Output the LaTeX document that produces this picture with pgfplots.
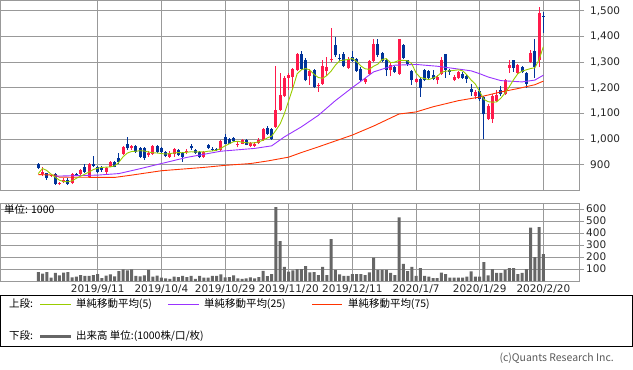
\documentclass[border=0pt]{standalone}
\usepackage{pgfplots}
\pgfplotsset{compat=1.18}
\usepackage{pgfplotstable}
\usepackage{fontspec}
\setmainfont{DejaVu Sans}
\newfontfamily\jp{Noto Sans CJK JP}
\newcommand\tf{\fontsize{10.5pt}{12.5pt}\selectfont}
\definecolor{cRed}{HTML}{FF1A4B}
\definecolor{cBlue}{HTML}{003399}
\definecolor{ma5}{HTML}{99CC00}
\definecolor{ma25}{HTML}{9933FF}
\definecolor{ma75}{HTML}{FF3300}
\definecolor{gridc}{HTML}{999999}
\definecolor{volc}{HTML}{666666}

\pgfplotstableread{
i O H L C
-13 866 890 858 872
-11 858 866 854 862
-9 824 833 820 830
-8 834 848 830 842
-6 828 869 825 866
-4 865 884 862 881
-2 852 908 850 905
2 873 893 866 889
3 893 914 890 910
6 944 975 940 970
8 964 978 958 974
12 938 952 932 947
13 942 976 938 973
17 931 952 928 947
18 944 966 931 960
21 950 962 942 955
25 931 955 928 951
29 957 997 955 994
33 980 992 968 983
34 983 1000 980 996
36 973 990 970 986
37 973 987 970 983
38 985 1005 982 996
39 996 1045 994 1041
42 1048 1285 1045 1113
43 1113 1259 1110 1171
44 1168 1245 1164 1240
45 1240 1259 1190 1249
46 1242 1278 1190 1272
47 1268 1335 1265 1330
50 1245 1275 1210 1264
52 1206 1220 1184 1212
53 1216 1307 1212 1284
54 1266 1320 1245 1281
55 1307 1433 1300 1314
59 1277 1320 1274 1314
63 1221 1240 1216 1236
64 1253 1310 1250 1304
65 1304 1389 1300 1372
69 1268 1295 1245 1290
71 1255 1392 1250 1389
75 1223 1240 1220 1236
80 1229 1250 1215 1242
81 1253 1320 1250 1307
84 1229 1248 1225 1242
85 1240 1266 1236 1262
89 1167 1193 1155 1184
92 1078 1135 1074 1128
93 1078 1175 1063 1168
94 1149 1190 1145 1173
96 1177 1235 1172 1229
97 1277 1310 1258 1288
99 1258 1294 1255 1290
102 1300 1349 1296 1336
104 1310 1516 1281 1492
}\upc

\pgfplotstableread{
i O H L C
-14 905 908 884 889
-12 867 870 842 848
-10 866 870 822 826
-7 842 848 822 826
-5 866 870 855 858
-3 893 902 870 874
-1 905 935 892 895
0 890 895 870 874
1 886 895 873 878
4 910 916 890 893
5 925 945 905 912
7 983 1009 958 964
9 973 977 948 951
10 966 970 928 931
11 964 968 918 925
14 973 976 948 951
15 966 970 946 951
16 951 955 930 934
19 957 960 935 938
20 947 950 912 929
22 974 980 958 964
23 957 960 944 947
24 951 955 928 931
26 977 980 962 966
27 962 968 955 959
28 962 965 955 959
30 1009 1019 980 983
31 999 1003 980 983
32 1005 1008 988 991
35 996 1000 976 979
40 1045 1050 1018 1022
41 1041 1045 998 1002
48 1333 1343 1270 1275
49 1310 1318 1225 1229
51 1268 1272 1200 1203
56 1365 1398 1320 1326
57 1318 1330 1305 1315
58 1330 1340 1280 1284
60 1320 1345 1300 1305
61 1314 1318 1262 1266
62 1275 1280 1228 1232
66 1372 1392 1320 1326
67 1336 1340 1300 1305
68 1307 1312 1245 1268
70 1281 1285 1258 1262
72 1368 1372 1312 1317
73 1307 1310 1285 1291
74 1266 1270 1212 1229
76 1236 1240 1165 1201
77 1268 1272 1225 1229
78 1266 1270 1236 1240
79 1250 1268 1230 1236
82 1330 1333 1240 1268
83 1268 1275 1250 1262
86 1255 1260 1236 1240
87 1245 1249 1220 1236
88 1197 1216 1168 1184
90 1188 1203 1150 1155
91 1165 1168 999 1097
95 1193 1206 1170 1175
98 1307 1310 1262 1277
100 1281 1285 1258 1262
101 1258 1262 1200 1216
103 1343 1391 1240 1281
105 1480 1494 1413 1477
}\dnc

\pgfplotstableread{
i v
-14 75
-13 61
-12 75
-11 28
-10 67
-9 47
-8 70
-7 75
-6 31
-5 36
-4 50
-3 42
-2 42
-1 50
0 58
1 25
2 45
3 55
4 39
5 83
6 97
7 89
8 97
9 42
10 39
11 47
12 92
13 36
14 45
15 28
16 22
17 17
18 36
19 33
20 42
21 33
22 42
23 17
24 42
25 28
26 28
27 42
28 42
29 55
30 31
31 33
32 47
33 22
34 17
35 22
36 31
37 22
38 33
39 85
40 40
41 58
42 615
43 333
44 117
45 78
46 89
47 100
48 100
49 125
50 72
51 75
52 50
53 117
54 50
55 350
56 92
57 55
58 42
59 42
60 58
61 58
62 58
63 50
64 72
65 194
66 92
67 92
68 92
69 67
70 50
71 530
72 142
73 83
74 117
75 42
76 108
77 42
78 36
79 25
80 25
81 70
82 58
83 28
84 28
85 28
86 28
87 36
88 81
89 36
90 36
91 158
92 47
93 100
94 67
95 67
96 92
97 108
98 108
99 58
100 67
101 100
102 444
103 200
104 450
105 225
}\vol

\pgfplotsset{
 panel/.style={
  scale only axis, width=578.5bp,
  xmin=-22.9, xmax=113.4,
  xtick={0,15,...,105},
  axis line style={gridc, line width=0.8bp},
  grid=major, grid style={gridc, line width=0.8bp},
  ytick pos=right, yticklabel pos=right, xtick pos=bottom,
  tick align=outside, major tick length=5bp,
  tick style={gridc, line width=0.8bp},
  x tick style={draw=none},
  ticklabel style={font=\tf, text=black!85},
  /pgf/number format/assume math mode=true,
  /pgf/number format/1000 sep={,},
  yticklabel style={anchor=west, inner sep=0pt},
 },
 cwick/.style={draw=none, mark=none, forget plot, error bars/.cd, y dir=plus, y explicit, error mark=none, error bar style={draw=#1, line width=1bp}},
 cbody/.style={draw=none, mark=none, forget plot, error bars/.cd, y dir=plus, y explicit, error mark=none, error bar style={draw=#1, line width=3bp}},
}

\begin{document}
\begin{tikzpicture}
\path[use as bounding box] (0,0) rectangle (633bp,-370bp);
\begin{axis}[panel, at={(0.5bp,-0.5bp)}, anchor=north west, height=189.5bp,
  ymin=802, ymax=1540, ytick={900,1000,...,1500}, xticklabels={},
  yticklabel style={xshift=6bp}]
\addplot[cwick=cRed] table[x=i, y=L, y error plus expr=\thisrow{H}-\thisrow{L}] {\upc};
\addplot[cbody=cRed] table[x=i, y=O, y error plus expr=\thisrow{C}-\thisrow{O}] {\upc};
\addplot[cwick=cBlue] table[x=i, y=L, y error plus expr=\thisrow{H}-\thisrow{L}] {\dnc};
\addplot[cbody=cBlue] table[x=i, y=C, y error plus expr=\thisrow{O}-\thisrow{C}] {\dnc};
\addplot[ma75, line width=0.9bp] coordinates {(-14,862) (-10,860) (-9,852) (4,851) (8,860) (15,877) (25,890) (30,898) (36,905) (40,915) (45,930) (48,948) (52,970) (60,1016) (65,1051) (71,1098) (75,1106) (79,1126) (85,1150) (90,1164) (95,1184) (99,1197) (103,1212) (105,1226)};
\addplot[ma25, line width=0.9bp] coordinates {(-10,856) (-5,858) (0,860) (5,866) (10,885) (15,905) (21,929) (29,953) (37,964) (41,974) (44,1009) (48,1048) (52,1093) (56,1150) (60,1201) (65,1262) (70,1288) (75,1291) (80,1284) (85,1273) (88,1266) (90,1255) (92,1242) (95,1228) (100,1223) (103,1230) (105,1249)};
\addplot[ma5, line width=0.9bp] coordinates {(-14,866) (-13,886) (-12,878) (-11,864) (-10,852) (-9,840) (-8,835) (-7,834) (-6,838) (-5,848) (-4,856) (-3,864) (-2,872) (-1,882) (0,887) (1,890) (2,891) (3,892) (4,896) (5,910) (6,932) (7,946) (8,952) (9,953) (10,955) (11,954) (12,950) (13,947) (14,946) (15,944) (16,942) (17,944) (18,946) (19,948) (20,947) (21,949) (22,951) (23,950) (24,951) (25,950) (26,953) (27,954) (28,957) (29,964) (30,974) (31,982) (32,990) (33,992) (34,988) (35,986) (36,985) (37,986) (38,990) (39,996) (40,1005) (41,1012) (42,1035) (43,1060) (44,1100) (45,1150) (46,1200) (47,1255) (48,1270) (49,1275) (50,1269) (51,1252) (52,1240) (53,1237) (54,1248) (55,1265) (56,1288) (57,1305) (58,1308) (59,1310) (60,1314) (61,1302) (62,1285) (63,1274) (64,1272) (65,1284) (66,1292) (67,1310) (68,1314) (69,1298) (70,1300) (71,1307) (72,1307) (73,1305) (74,1294) (75,1258) (76,1240) (77,1236) (78,1232) (79,1238) (80,1245) (81,1260) (82,1265) (83,1266) (84,1268) (85,1270) (86,1266) (87,1250) (88,1230) (89,1214) (90,1185) (91,1155) (92,1146) (93,1144) (94,1145) (95,1160) (96,1180) (97,1205) (98,1232) (99,1255) (100,1265) (101,1270) (102,1275) (103,1278) (104,1310) (105,1360)};
\end{axis}
\begin{axis}[panel, at={(0.5bp,-203bp)}, anchor=north west, height=78bp,
  ymin=0, ymax=650, ytick={100,200,...,600},
  yticklabel style={xshift=2bp},
  xticklabels={2019/9/11,2019/10/4,2019/10/29,2019/11/20,2019/12/11,2020/1/7,2020/1/29,2020/2/20},
  xticklabel style={anchor=north, inner sep=0pt, yshift=1bp}]
\addplot[ybar, bar width=3bp, fill=volc, draw=none] table[x=i, y=v] {\vol};
\end{axis}
\node[anchor=west, inner sep=0pt] at (4bp,-209.5bp) {\jp\tf 単位: 1000};
\draw[black, line width=0.8bp] (0.5bp,-295.5bp) rectangle (632.5bp,-346.5bp);
\node[anchor=west, inner sep=0pt] at (9bp,-304bp) {\jp\tf 上段:};
\draw[ma5, line width=0.9bp] (40bp,-304bp) -- (71bp,-304bp);
\node[anchor=west, inner sep=0pt] at (76bp,-304bp) {\jp\tf 単純移動平均(5)};
\draw[ma25, line width=0.9bp] (168bp,-304bp) -- (199bp,-304bp);
\node[anchor=west, inner sep=0pt] at (204bp,-304bp) {\jp\tf 単純移動平均(25)};
\draw[ma75, line width=0.9bp] (312bp,-304bp) -- (342bp,-304bp);
\node[anchor=west, inner sep=0pt] at (348bp,-304bp) {\jp\tf 単純移動平均(75)};
\node[anchor=west, inner sep=0pt] at (9bp,-336bp) {\jp\tf 下段:};
\draw[volc, line width=3bp] (40bp,-336bp) -- (71bp,-336bp);
\node[anchor=west, inner sep=0pt] at (76bp,-336bp) {\jp\tf 出来高 単位:(1000株/口/枚)};
\node[anchor=east, inner sep=0pt, text=black!65] at (614bp,-358bp) {\jp\tf (c)Quants Research Inc.};
\end{tikzpicture}
\end{document}
